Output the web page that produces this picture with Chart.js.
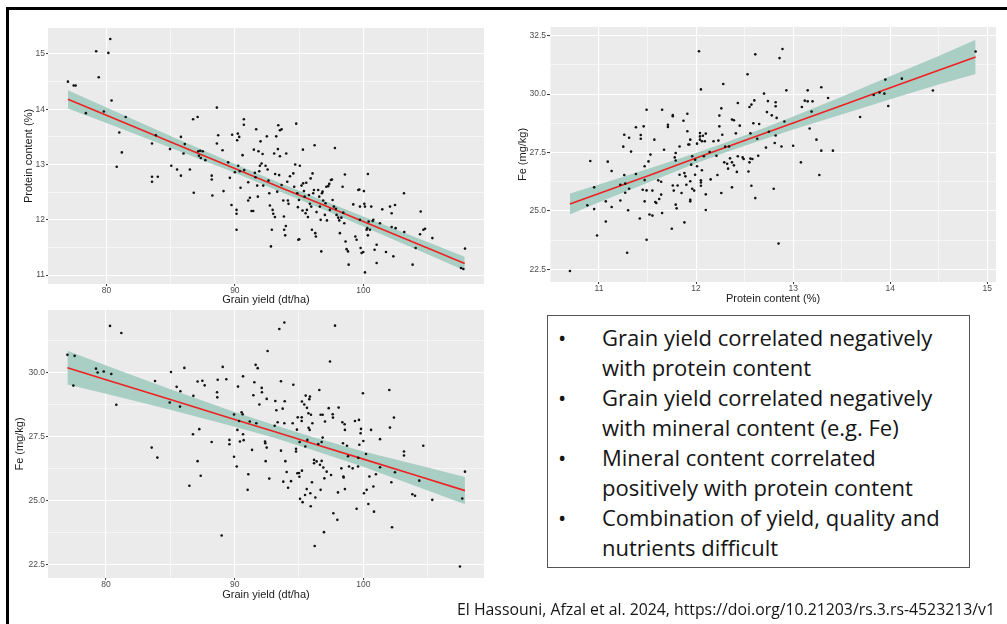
<!DOCTYPE html>
<html>
<head>
<meta charset="utf-8">
<script src="https://cdn.jsdelivr.net/npm/chart.js@4.4.1/dist/chart.umd.min.js"></script>
<style>
  html, body { margin: 0; padding: 0; background: #fff; overflow: hidden; }
  body { width: 1007px; height: 624px; position: relative; }
  .frame { position: absolute; left: 6px; top: 7px; width: 1020px; height: 640px;
           border-top: 3px solid #000; border-left: 3px solid #000; }
  .plot { position: absolute; }
  .notes { position: absolute; left: 547px; top: 315px; width: 421px; height: 251px;
           border: 1px solid #555; font-family: "Open Sans", Lato, sans-serif;
           font-size: 22px; color: #151515; }
  .notes .list { padding-top: 6px; }
  .notes p { position: relative; margin: 0; padding-left: 54px; line-height: 30px; white-space: nowrap; }
  .notes p::before { content: "\2022"; position: absolute; left: 10px; }
  .cite { position: absolute; right: 12px; top: 600px; font-family: "Open Sans", Lato, sans-serif;
          font-size: 15.8px; line-height: 19px; color: #151515; white-space: nowrap; }
</style>
</head>
<body>
<div class="frame"></div>
<div class="plot" style="left:8px; top:20px; width:482px; height:292px;"><canvas id="yieldProtein"></canvas></div>
<div class="plot" style="left:505px; top:20px; width:495px; height:290px;"><canvas id="proteinFe"></canvas></div>
<div class="plot" style="left:8px; top:303px; width:482px; height:300px;"><canvas id="yieldFe"></canvas></div>

<div class="notes">
  <div class="list">
    <p>Grain yield correlated negatively<br>with protein content</p>
    <p>Grain yield correlated negatively<br>with mineral content (e.g. Fe)</p>
    <p>Mineral content correlated<br>positively with protein content</p>
    <p>Combination of yield, quality and<br>nutrients difficult</p>
  </div>
</div>
<div class="cite">El Hassouni, Afzal et al. 2024, https://doi.org/10.21203/rs.3.rs-4523213/v1</div>

<script>
// ---- data: grain yield (dt/ha) vs protein content (%)
const yieldProteinPts = [
  [77.0,14.50],[77.45,14.43],[77.6,14.43],[78.4,13.93],[79.2,15.05],[79.4,14.58],[79.8,13.96],[80.15,15.02],[80.3,15.27],[80.4,14.16],
  [80.8,12.96],[81.0,13.58],[81.2,13.22],[81.5,13.86],[83.55,13.38],[83.55,12.78],[84.0,12.78],[83.55,12.69],[83.85,13.53],[84.95,13.28],
  [85.05,12.98],[85.5,12.91],[85.8,13.50],[85.8,12.80],[86.0,13.20],[86.1,13.37],[86.5,12.91],[86.75,13.82],[86.8,12.49],[87.1,13.86],
  [87.15,13.24],[87.3,13.25],[87.2,13.16],[87.35,13.12],[87.5,13.24],[87.7,13.08],[88.2,12.80],[88.2,12.73],[88.25,12.44],[88.6,14.03],
  [88.7,13.53],[88.6,13.38],
  [89.04,13.26],[89.12,12.52],[89.48,13.04],[89.61,12.76],[89.74,12.27],[89.79,13.54],[90.0,12.86],[90.13,12.18],[90.13,12.11],[90.13,11.82],
  [90.18,13.44],[90.23,13.56],[90.34,13.50],[90.26,12.98],[90.39,12.88],[90.44,12.58],[90.6,13.17],[90.7,13.82],[90.7,13.72],[90.73,12.90],
  [91.04,12.68],[91.04,12.35],[91.17,12.40],[91.3,12.16],[91.43,12.16],[91.48,13.27],[91.56,12.85],[91.61,12.77],[91.66,13.64],[91.74,12.62],
  [91.79,12.42],[91.84,13.24],[91.9,12.88],[91.95,12.98],[92.0,13.42],[92.08,13.02],[92.16,13.19],[92.21,12.62],[92.39,12.98],[92.49,13.51],
  [92.55,12.91],[92.62,12.71],[92.68,12.48],[92.73,12.26],[92.81,11.52],[92.88,11.82],[92.94,12.18],[92.99,12.11],[93.12,12.05],[93.06,13.20],
  [93.14,12.83],[93.22,13.51],[93.3,12.51],[93.35,13.28],[93.45,12.81],[93.38,13.71],[93.51,13.62],[93.64,13.64],[93.51,13.15],[93.64,12.63],
  [93.77,12.35],[93.82,12.06],[93.84,11.82],[93.92,11.72],[93.97,11.89],[94.0,13.20],[94.08,12.69],[94.13,12.35],[94.18,12.29],[94.29,12.79],
  [94.55,12.84],[94.62,12.60],[94.7,13.00],[94.78,13.74],[94.86,12.48],[94.91,12.23],[94.99,12.36],[95.06,12.98],[94.94,11.64],[95.01,11.65],
  [95.19,12.62],[95.27,12.17],[95.3,13.27],[95.32,12.66],[95.38,12.52],[95.43,12.42],[95.51,12.12],[95.56,12.67],[95.61,12.18],[95.69,12.05],
  [95.77,12.45],[95.84,12.29],[95.9,12.75],[95.95,12.24],[96.0,11.82],[96.05,12.84],[96.1,12.48],[96.16,12.54],[96.21,13.35],[96.26,11.76],
  [96.31,11.70],[96.36,12.14],[96.49,12.54],[96.57,12.42],[96.62,12.24],[96.68,12.00],[96.73,11.43],[96.78,12.48],[96.83,12.51],[96.88,12.35],
  [97.01,12.09],[97.06,12.30],[97.12,12.60],[97.17,11.99],[97.27,12.61],[97.35,12.65],[97.4,12.18],[97.48,12.72],[97.56,12.73],[97.61,12.36],
  [97.71,12.24],[97.79,13.30],[97.87,12.20],[97.92,12.09],[98.05,12.04],[98.13,11.99],[98.18,11.76],[98.29,12.04],[98.39,12.60],[98.44,12.13],
  [98.52,11.94],[98.57,12.82],[98.62,11.61],[98.7,11.47],[98.81,11.43],[98.86,11.19],[99.22,12.28],[99.38,11.70],[99.48,11.64],[99.61,12.54],
  [99.69,12.55],[99.74,12.00],[99.74,12.24],[99.79,11.49],[99.87,11.40],[100.0,11.42],[100.05,12.52],[100.08,12.29],[100.13,12.24],[100.13,11.05],
  [100.26,11.82],[100.31,11.85],[100.36,11.72],[100.36,12.83],[100.42,11.97],[100.52,11.82],[100.62,12.24],[100.73,11.98],[100.78,12.00],[100.88,11.46],
  [101.04,11.55],[101.04,11.22],[101.3,11.94],[101.48,12.19],[101.77,11.42],[102.08,12.24],[102.21,12.12],[102.21,11.87],[102.34,11.34],[102.47,12.27],
  [102.52,11.85],[103.17,12.48],[103.19,11.78],[103.84,11.19],[104.08,11.49],[104.47,12.15],[104.42,11.74],[104.68,11.82],[104.81,11.84],[105.38,11.67],
  [107.61,11.13],[107.79,11.11],[107.92,11.48]
];
const yieldProteinBandX = [77, 80, 85, 90, 93.5, 97, 100, 105, 107.9];
const yieldProteinFit   = [14.18, 13.89, 13.41, 12.93, 12.59, 12.26, 11.97, 11.49, 11.21];
const yieldProteinUpper = [14.345, 14.03, 13.515, 13.01, 12.665, 12.34, 12.06, 11.60, 11.335];
const yieldProteinLower = [14.015, 13.75, 13.305, 12.85, 12.515, 12.18, 11.88, 11.38, 11.085];

// ---- data: protein content (%) vs Fe (mg/kg)
const proteinFePts = [
  [10.70,22.43],[10.88,25.24],[10.91,27.14],[10.95,26.01],[10.95,25.08],[10.98,23.95],[11.07,25.41],[11.07,24.55],[11.09,27.11],[11.13,26.71],
  [11.13,25.17],[11.22,25.45],[11.22,26.12],[11.25,27.75],[11.26,28.26],[11.26,26.54],[11.27,26.17],[11.27,25.78],[11.29,23.21],[11.31,25.95],
  [11.31,28.13],[11.30,25.03],[11.33,27.54],[11.38,26.58],[11.38,28.58],[11.42,24.68],[11.43,28.25],[11.43,28.09],[11.45,25.91],[11.46,28.62],
  [11.47,26.32],[11.47,25.41],[11.47,26.91],[11.49,29.33],[11.49,23.77],[11.49,25.88],[11.51,27.12],[11.52,24.85],[11.53,27.41],[11.55,25.87],
  [11.55,24.80],[11.57,28.05],[11.58,25.38],[11.59,25.34],[11.61,26.31],[11.62,25.51],[11.64,26.25],[11.64,25.70],[11.65,29.33],[11.65,24.91],
  [11.67,27.62],[11.71,28.69],[11.71,28.59],[11.75,24.24],[11.76,29.10],[11.76,29.05],[11.76,26.09],[11.77,25.87],[11.78,27.29],[11.79,27.48],
  [11.79,27.16],[11.79,25.27],[11.80,25.11],[11.81,26.09],[11.83,27.76],[11.83,26.55],[11.85,25.77],[11.87,28.86],[11.88,24.51],[11.88,26.62],
  [11.89,26.48],[11.90,26.12],[11.91,29.16],[11.91,28.41],[11.92,27.84],[11.93,27.84],[11.94,26.27],[11.94,25.48],[11.94,25.41],[11.94,28.05],
  [11.95,26.98],[11.96,27.34],[11.96,25.95],[11.98,25.87],[11.99,27.19],[11.99,26.55],[12.01,26.91],[12.01,27.88],[12.03,31.83],[12.04,28.33],
  [12.04,28.19],[12.04,28.05],[12.05,30.20],[12.05,26.08],[12.05,26.31],[12.05,26.22],[12.06,26.74],[12.06,27.98],[12.07,28.22],[12.08,27.34],
  [12.09,27.98],[12.10,28.31],[12.10,25.04],[12.10,25.71],[12.14,27.52],[12.15,26.35],[12.18,27.98],[12.21,27.36],[12.23,28.01],[12.22,26.54],
  [12.24,29.08],[12.24,28.62],[12.26,29.39],[12.26,25.77],[12.27,28.26],[12.28,30.43],[12.29,27.08],[12.30,27.75],[12.32,27.02],[12.33,26.81],
  [12.34,27.76],[12.35,27.25],[12.37,27.08],[12.37,28.91],[12.37,26.01],[12.39,28.88],[12.39,26.95],[12.41,28.32],[12.42,26.67],[12.43,29.62],
  [12.43,27.34],[12.45,28.65],[12.48,27.29],[12.49,27.22],[12.53,30.85],[12.54,26.69],[12.55,29.45],[12.55,27.08],[12.56,28.32],[12.56,27.24],
  [12.57,29.55],[12.57,26.08],[12.58,27.22],[12.59,28.75],[12.60,29.73],[12.61,31.70],[12.61,25.55],[12.63,28.09],[12.64,27.36],[12.65,28.72],
  [12.70,30.02],[12.72,27.71],[12.73,29.23],[12.74,29.70],[12.75,28.39],[12.78,29.09],[12.80,25.95],[12.81,27.91],[12.82,29.65],[12.82,29.48],
  [12.82,28.23],[12.83,28.98],[12.85,23.61],[12.86,31.54],[12.88,27.76],[12.89,31.93],[12.91,28.83],[12.93,30.16],[13.00,27.79],[13.08,27.08],
  [13.09,29.45],[13.12,29.72],[13.15,30.16],[13.15,29.69],[13.17,28.53],[13.19,29.25],[13.20,29.69],[13.24,28.05],[13.27,26.54],[13.29,27.58],
  [13.29,30.29],[13.36,29.83],[13.41,27.58],[13.69,29.02],[13.83,29.96],[13.89,30.07],[13.94,30.02],[13.95,30.62],[13.98,29.49],[14.12,30.66],
  [14.44,30.15],[14.88,31.82]
];
const proteinFeBandX = [10.7, 11, 11.5, 12, 12.3, 12.7, 13, 13.5, 14, 14.5, 14.88];
const proteinFeFit   = [25.30, 25.75, 26.50, 27.26, 27.71, 28.31, 28.76, 29.51, 30.27, 31.02, 31.59];
const proteinFeUpper = [25.75, 26.13, 26.79, 27.48, 27.92, 28.55, 29.04, 29.89, 30.76, 31.63, 32.32];
const proteinFeLower = [24.85, 25.37, 26.21, 27.04, 27.50, 28.07, 28.48, 29.13, 29.78, 30.41, 30.86];

// ---- data: grain yield (dt/ha) vs Fe (mg/kg)
const yieldFePts = [
  [77.0,30.68],[77.46,29.48],[77.56,30.64],[79.22,30.14],[79.35,29.99],[79.82,30.03],[80.31,31.81],[80.41,29.93],[80.80,28.73],[81.19,31.53],
  [83.55,27.06],[83.81,29.66],[83.99,26.67],[84.95,28.82],[85.05,30.01],[85.49,29.43],[85.75,28.66],[85.78,29.26],[86.09,30.17],[86.48,25.57],
  [86.76,27.58],[86.79,29.08],[87.12,26.53],[87.12,29.64],[87.25,27.78],[87.36,25.96],[87.49,29.67],[87.67,29.49],[88.21,27.28],[88.63,29.22],
  [88.65,29.02],[88.68,29.71],[88.99,23.63],[89.07,30.21],[89.35,29.73],[89.59,27.36],[89.59,27.19],[89.95,28.35],[89.95,26.70],[90.16,26.32],
  [90.21,27.75],[90.26,29.44],[90.34,28.10],[90.41,27.30],[90.54,28.44],[90.62,28.36],[90.65,29.84],[90.65,27.58],[90.70,27.35],[91.06,26.02],
  [91.01,25.41],[91.17,28.08],[91.35,26.97],[91.45,29.10],[91.53,29.61],[91.63,30.29],[91.68,28.01],[91.79,30.16],[91.92,28.74],[92.10,29.39],
  [92.12,29.22],[92.36,27.30],[92.38,27.23],[92.41,26.53],[92.49,28.96],[92.49,27.06],[92.56,30.83],[92.69,25.85],[93.11,27.91],[93.16,28.88],
  [93.24,28.52],[93.34,28.05],[93.47,31.69],[93.60,29.65],[93.60,26.94],[93.73,28.58],[93.78,25.73],[93.86,31.94],[93.86,28.01],[93.89,28.87],
  [93.94,26.53],[94.04,26.11],[94.15,25.49],[94.38,25.75],[94.51,28.01],[94.56,29.51],[94.77,27.01],[94.77,26.91],[94.84,27.76],[94.87,26.06],
  [94.90,28.24],[95.00,26.07],[95.03,25.92],[95.05,27.28],[95.08,25.06],[95.21,28.24],[95.21,28.10],[95.23,26.16],[95.23,28.86],[95.28,24.93],
  [95.41,28.74],[95.47,25.21],[95.49,27.10],[95.52,29.09],[95.60,25.44],[95.62,28.61],[95.65,27.36],[95.73,28.40],[95.75,27.83],[95.80,28.95],
  [95.83,27.75],[95.85,29.05],[95.88,25.28],[95.91,24.77],[95.93,28.34],[96.01,25.71],[96.04,28.01],[96.17,26.58],[96.17,26.45],[96.22,23.22],
  [96.27,25.11],[96.37,26.52],[96.50,27.20],[96.58,29.31],[96.63,26.39],[96.68,28.34],[96.68,25.41],[96.76,27.28],[96.76,26.54],[96.84,28.34],
  [96.84,27.45],[96.89,26.28],[96.94,23.76],[96.97,25.86],[97.02,28.08],[97.15,26.12],[97.31,28.60],[97.41,30.42],[97.49,25.99],[97.62,28.36],
  [97.64,28.23],[97.67,24.50],[97.80,31.82],[97.98,24.24],[98.03,25.31],[98.08,28.62],[98.29,26.25],[98.37,28.05],[98.42,27.23],[98.45,25.93],
  [98.47,25.89],[98.55,27.97],[98.57,27.75],[98.57,25.44],[98.73,27.13],[98.81,26.72],[98.89,26.32],[99.17,26.25],[99.35,28.10],[99.48,24.67],
  [99.59,26.32],[99.61,26.66],[99.66,28.14],[99.69,27.17],[99.79,27.62],[99.82,27.79],[99.97,29.18],[100.0,27.32],[100.05,25.28],[100.21,26.81],
  [100.26,25.41],[100.39,24.86],[100.47,25.93],[100.60,27.75],[100.78,25.54],[100.83,24.56],[100.98,26.02],[101.30,27.39],[101.30,26.29],[102.02,29.31],
  [102.07,27.84],[102.18,25.71],[102.23,23.95],[102.38,28.23],[102.46,26.10],[103.16,26.91],[103.16,26.75],[103.81,25.24],[104.02,25.18],[104.35,25.77],
  [104.66,27.13],[105.36,25.02],[107.51,22.42],[107.69,25.07],[107.90,26.12]
];
const yieldFeBandX = [77, 80, 85, 90, 93, 96, 100, 104, 107.9];
const yieldFeFit   = [30.18, 29.71, 28.94, 28.16, 27.70, 27.23, 26.61, 25.99, 25.38];
const yieldFeUpper = [30.84, 30.26, 29.34, 28.45, 27.95, 27.48, 26.91, 26.41, 25.91];
const yieldFeLower = [29.52, 29.16, 28.54, 27.87, 27.45, 26.98, 26.31, 25.57, 24.85];

// ---- axis ticks
const yieldTicks = [80, 90, 100];
const yieldTickLabels = ['80', '90', '100'];
const yieldMinor = [85, 95, 105];
const proteinYTicks = [11, 12, 13, 14, 15];
const proteinYLabels = ['11', '12', '13', '14', '15'];
const proteinYMinor = [11.5, 12.5, 13.5, 14.5];
const proteinXTicks = [11, 12, 13, 14, 15];
const proteinXLabels = ['11', '12', '13', '14', '15'];
const proteinXMinor = [10.5, 11.5, 12.5, 13.5, 14.5];
const feTicks = [22.5, 25, 27.5, 30, 32.5];
const feTickLabels = ['22.5', '25.0', '27.5', '30.0', '32.5'];
const feMinor = [23.75, 26.25, 28.75, 31.25];

const FONT = '"Liberation Sans", Arial, sans-serif';
const PANEL = '#EBEBEB';
const BAND = '#A9CEC4';
const FIT = '#EE2222';

const panelBg = {
    id: 'panelBg',
    beforeDraw(chart) {
        const {ctx, chartArea: a} = chart;
        ctx.save();
        ctx.fillStyle = PANEL;
        ctx.fillRect(a.left, a.top, a.right - a.left, a.bottom - a.top);
        ctx.restore();
    }
};

function axis(o) {
    // only keep ticks that fall inside the panel
    const all = o.major.concat(o.minor)
        .filter(v => v >= o.min && v <= o.max)
        .sort((a, b) => a - b);
    const majorIdx = v => o.major.findIndex(m => Math.abs(m - v) < 1e-9);
    return {
        type: 'linear',
        min: o.min,
        max: o.max,
        afterBuildTicks: s => { s.ticks = all.map(v => ({value: v})); },
        afterFit: s => { if (o.horizontal) s.height = o.size; else s.width = o.size; },
        border: {display: false},
        grid: {
            color: '#FFFFFF',
            lineWidth: c => majorIdx(c.tick.value) >= 0 ? 1.1 : 0.55,
            tickColor: c => majorIdx(c.tick.value) >= 0 ? '#333333' : 'rgba(0,0,0,0)',
            tickLength: o.tickLen,
            tickWidth: 1
        },
        ticks: {
            autoSkip: false,
            maxRotation: 0,
            padding: o.tickPad,
            color: '#4D4D4D',
            font: {family: FONT, size: 8.5},
            callback: v => { const i = majorIdx(v); return i < 0 ? '' : o.labels[i]; }
        },
        title: {
            display: true,
            text: o.title,
            color: '#1A1A1A',
            font: {family: FONT, size: 11},
            padding: o.titlePad
        }
    };
}

function pairs(xs, ys) {
    return xs.map((x, i) => ({x: x, y: ys[i]}));
}

function makePlot(id, p) {
    new Chart(document.getElementById(id), {
        type: 'scatter',
        data: {
            datasets: [
                {
                    data: p.points.map(([x, y]) => ({x: x, y: y})),
                    pointRadius: 1.3,
                    pointBackgroundColor: '#111111',
                    pointBorderWidth: 0,
                    order: 0
                },
                {
                    type: 'line',
                    data: pairs(p.bandX, p.fit),
                    borderColor: FIT,
                    borderWidth: 1.6,
                    pointRadius: 0,
                    fill: false,
                    order: 1
                },
                {
                    type: 'line',
                    data: pairs(p.bandX, p.upper),
                    borderColor: 'rgba(0,0,0,0)',
                    borderWidth: 0,
                    pointRadius: 0,
                    backgroundColor: BAND,
                    fill: '+1',
                    order: 2
                },
                {
                    type: 'line',
                    data: pairs(p.bandX, p.lower),
                    borderColor: 'rgba(0,0,0,0)',
                    borderWidth: 0,
                    pointRadius: 0,
                    fill: false,
                    order: 3
                }
            ]
        },
        options: {
            responsive: true,
            maintainAspectRatio: false,
            animation: false,
            layout: {padding: p.padding},
            plugins: {legend: {display: false}, tooltip: {enabled: false}},
            scales: {x: p.x, y: p.y}
        },
        plugins: [panelBg]
    });
}

makePlot('yieldProtein', {
    points: yieldProteinPts,
    bandX: yieldProteinBandX, fit: yieldProteinFit, upper: yieldProteinUpper, lower: yieldProteinLower,
    padding: {top: 8, right: 6, left: 0, bottom: 0},
    x: axis({horizontal: true, size: 28, min: 75.45, max: 109.4, major: yieldTicks, minor: yieldMinor,
             labels: yieldTickLabels, title: 'Grain yield (dt/ha)', tickLen: 2, tickPad: 0,
             titlePad: {top: 0, bottom: 5.4}}),
    y: axis({size: 40, min: 10.84, max: 15.47, major: proteinYTicks, minor: proteinYMinor,
             labels: proteinYLabels, title: 'Protein content (%)', tickLen: 2, tickPad: 1,
             titlePad: {top: 14.4, bottom: 0}})
});

makePlot('proteinFe', {
    points: proteinFePts,
    bandX: proteinFeBandX, fit: proteinFeFit, upper: proteinFeUpper, lower: proteinFeLower,
    padding: {top: 7, right: 4, left: 0, bottom: 0},
    x: axis({horizontal: true, size: 28, min: 10.495, max: 15.09, major: proteinXTicks, minor: proteinXMinor,
             labels: proteinXLabels, title: 'Protein content (%)', tickLen: 2, tickPad: 0,
             titlePad: {top: 0, bottom: 4.4}}),
    y: axis({size: 45, min: 21.96, max: 32.87, major: feTicks, minor: feMinor,
             labels: feTickLabels, title: 'Fe (mg/kg)', tickLen: 3, tickPad: 1,
             titlePad: {top: 11.4, bottom: 0}})
});

makePlot('yieldFe', {
    points: yieldFePts,
    bandX: yieldFeBandX, fit: yieldFeFit, upper: yieldFeUpper, lower: yieldFeLower,
    padding: {top: 7, right: 6, left: 0, bottom: 0},
    x: axis({horizontal: true, size: 25, min: 75.49, max: 109.38, major: yieldTicks, minor: yieldMinor,
             labels: yieldTickLabels, title: 'Grain yield (dt/ha)', tickLen: 2, tickPad: 0,
             titlePad: {top: 0, bottom: 1.4}}),
    y: axis({size: 40, min: 21.97, max: 32.43, major: feTicks, minor: feMinor,
             labels: feTickLabels, title: 'Fe (mg/kg)', tickLen: 2, tickPad: 1,
             titlePad: {top: 5.4, bottom: 0}})
});
</script>
</body>
</html>
